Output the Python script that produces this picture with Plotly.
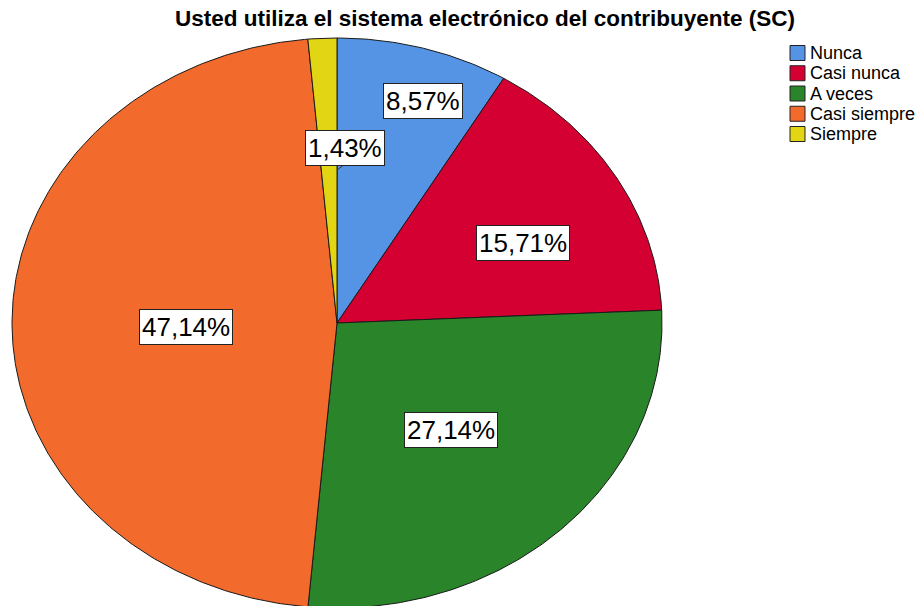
import numpy as np
import plotly.graph_objects as go

# ---- data ----
title_text = "Usted utiliza el sistema electrónico del contribuyente (SC)"
categories = ["Nunca", "Casi nunca", "A veces", "Casi siempre", "Siempre"]
percentages = [8.57, 15.71, 27.14, 47.14, 1.43]
colors = ["#5594E5", "#D50032", "#29842A", "#F26A2C", "#E2D514"]

W, H = 917, 606
FONT = "Liberation Sans, Arial"
# ellipse geometry in pixels (layout)
CX, CY, RX, RY = 337, 323, 325, 285

# axis ranges so that unit ellipse maps onto the pixel ellipse
x0 = -CX / RX
x1 = x0 + W / RX
y1 = CY / RY
y0 = y1 - H / RY

fig = go.Figure()
total = sum(percentages)
start = 0.0
for cat, val, col in zip(categories, percentages, colors):
    a0 = start / total * 2 * np.pi
    a1 = (start + val) / total * 2 * np.pi
    t = np.linspace(a0, a1, max(8, int(val * 6)))
    xs = np.concatenate([[0], np.sin(t), [0]])
    ys = np.concatenate([[0], np.cos(t), [0]])
    fig.add_trace(go.Scatter(
        x=xs, y=ys, mode="lines", fill="toself", fillcolor=col,
        line=dict(color="#1a1a1a", width=1), name=cat, hoverinfo="name",
        showlegend=False,
    ))
    start += val

# label positions (pixels) as layout
label_px = [(423, 101), (523, 243), (451, 430), (186, 327), (345, 148)]
for val, (px, py) in zip(percentages, label_px):
    txt = f"{val:.2f}%".replace(".", ",")
    fig.add_annotation(
        x=px / W, y=1 - py / H, xref="paper", yref="paper",
        xanchor="center", yanchor="middle",
        text=txt, showarrow=False,
        font=dict(family=FONT, size=26, color="black"),
        bgcolor="white", bordercolor="#222", borderwidth=1, borderpad=2,
    )

# leader line for small slice
fig.add_shape(type="line", xref="paper", yref="paper",
              x0=337 / W, y0=1 - 170 / H, x1=345 / W, y1=1 - 164 / H,
              line=dict(color="#333", width=1))

# legend (drawn as boxes + text)
LX, LY, LSTEP, BOX = 790, 53, 20.25, 15
for i, (cat, col) in enumerate(zip(categories, colors)):
    cy = LY + i * LSTEP
    fig.add_shape(type="rect", xref="paper", yref="paper",
                  x0=LX / W, x1=(LX + BOX) / W,
                  y0=1 - (cy - BOX / 2) / H, y1=1 - (cy + BOX / 2) / H,
                  fillcolor=col, line=dict(color="#222", width=1))
    fig.add_annotation(x=(LX + BOX + 3) / W, y=1 - cy / H, xref="paper", yref="paper",
                       text=cat, showarrow=False, xanchor="left", yanchor="middle",
                       font=dict(family=FONT, size=18, color="black"))

fig.update_layout(
    width=W, height=H,
    margin=dict(l=0, r=0, t=0, b=0),
    paper_bgcolor="white", plot_bgcolor="white",
    title=dict(text=f"<b>{title_text}</b>", x=485 / W, xanchor="center",
               xref="paper", yref="container", y=1 - 18 / H, yanchor="middle",
               font=dict(family=FONT, size=22.5, color="black")),
    xaxis=dict(range=[x0, x1], visible=False, fixedrange=True),
    yaxis=dict(range=[y0, y1], visible=False, fixedrange=True),
    showlegend=False,
)

fig.write_html("out.html")
